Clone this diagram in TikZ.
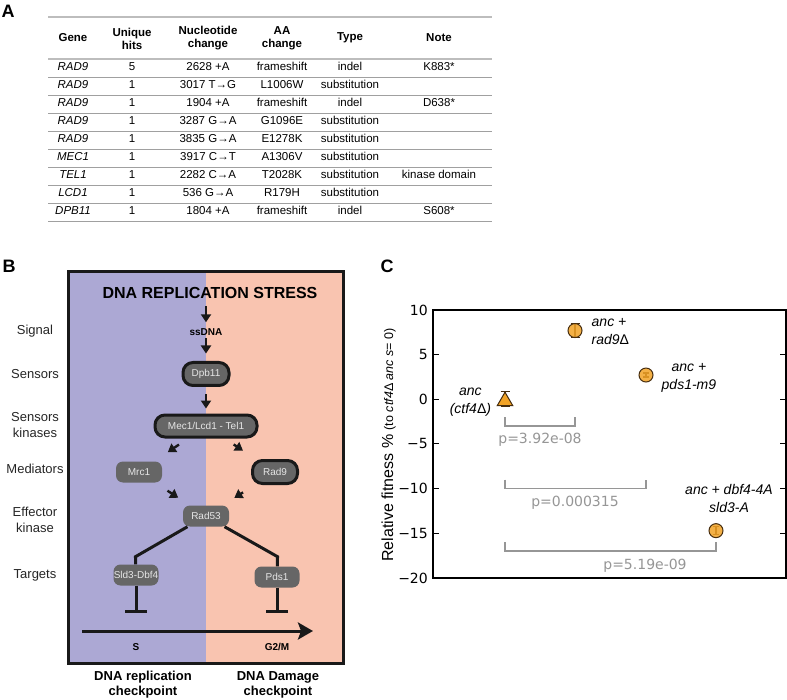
\documentclass[tikz,border=0pt]{standalone}
\usepackage{fontspec}
\setmainfont{Liberation Sans}
\newfontfamily\plotfont{DejaVu Sans}
\usetikzlibrary{positioning,arrows.meta,shapes.geometric}

\definecolor{replcol}{RGB}{172,168,212}
\definecolor{dmgcol}{RGB}{249,196,176}
\definecolor{protfill}{RGB}{102,102,102}
\definecolor{prottext}{RGB}{230,230,230}
\definecolor{rulegray}{RGB}{160,160,160}
\definecolor{markfill}{RGB}{242,163,38}
\definecolor{markedge}{RGB}{70,45,15}
\definecolor{pgray}{RGB}{150,150,150}

\begin{document}
\begin{tikzpicture}[
        x=1pt, y=-1pt,
        panel/.style={font=\fontsize{18}{18}\selectfont\bfseries, inner sep=0pt},
        cell/.style={font=\fontsize{11.5}{13}\selectfont, inner sep=0pt, align=center, anchor=base},
        head/.style={font=\fontsize{11.5}{13}\selectfont\bfseries, inner sep=0pt, align=center},
        genecell/.style={cell, font=\fontsize{11.5}{13}\selectfont\itshape},
        hline/.style={draw=rulegray, line width=0.9pt},
        topline/.style={draw=rulegray!70, line width=1.6pt},
        stage/.style={font=\fontsize{13}{16}\selectfont, align=center, inner sep=0pt, text=black!85},
        prot/.style={rectangle, rounded corners=7pt, fill=protfill, text=prottext,
            font=\fontsize{10}{10}\selectfont, inner sep=0pt, minimum width=46pt, minimum height=21pt},
        pill/.style={prot, draw=black!90, line width=3pt, rounded corners=10pt, minimum height=23pt},
        sig/.style={-{Triangle[length=8pt,width=10pt]}, line width=2.4pt, draw=black!90},
        link/.style={line width=3pt, draw=black!90},
        inhibit/.style={-{Bar[width=22pt]}, line width=3pt, draw=black!90},
        phase/.style={font=\fontsize{10}{10}\selectfont\bfseries, inner sep=0pt},
        check/.style={font=\fontsize{13}{15}\selectfont\bfseries, align=center, inner sep=0pt},
        ticklab/.style={font=\plotfont\fontsize{14}{14}\selectfont, inner sep=0pt, anchor=east},
        pt/.style={circle, draw=markedge, fill=markfill, fill opacity=0.85, line width=1pt,
            minimum size=14pt, inner sep=0pt},
        tri/.style={regular polygon, regular polygon sides=3, draw=markedge, fill=markfill,
            line width=1pt, minimum size=18pt, inner sep=0pt},
        errbar/.style={{Bar[width=#1]}-{Bar[width=#1]}, line width=1.3pt, draw=markedge},
        errbar/.default=9pt,
        bracket/.style={draw=pgray, line width=1.6pt},
        pval/.style={font=\plotfont\fontsize{14}{14}\selectfont, text=pgray, inner sep=0pt, anchor=base},
        ptlab/.style={font=\fontsize{14}{18}\selectfont\itshape, inner sep=0pt, align=center}
    ]
    \useasboundingbox (0,0) rectangle (787,700);
    \fill[white] (0,0) rectangle (787,700);

    % A: table of hits
    \node[panel] (labA) at (8,11) {A};
    \draw[topline] (48,17) -- (492,17);
    \node[head] (hgene) at (73,38) {Gene};
    \node[head] (hhits) at (132,38.5) {Unique\\hits};
    \node[head] (hnuc) at (208,38.5) {Nucleotide\\change};
    \node[head] (hamino) at (282,38.5) {AA\\change};
    \node[head] (htype) at (350,38) {Type};
    \node[head] (hremark) at (439,38) {Note};
    \draw[topline] (48,59) -- (492,59);
    \foreach \gene/\hits/\nuc/\amino/\kind/\remark [count=\r] in {
        RAD9/5/2628 +A/frameshift/indel/K883*,
        RAD9/1/3017 T→G/L1006W/substitution/{},
        RAD9/1/1904 +A/frameshift/indel/D638*,
        RAD9/1/3287 G→A/G1096E/substitution/{},
        RAD9/1/3835 G→A/E1278K/substitution/{},
        MEC1/1/3917 C→T/A1306V/substitution/{},
        TEL1/1/2282 C→A/T2028K/substitution/kinase domain,
        LCD1/1/536 G→A/R179H/substitution/{},
        DPB11/1/1804 +A/frameshift/indel/S608*}
    {
        \pgfmathsetmacro\ry{71+18*(\r-1)}
        \pgfmathsetmacro\ly{77+18*(\r-1)}
        \node[genecell] (gene\r) at (73,\ry) {\gene};
        \node[cell] (hits\r) at (132,\ry) {\hits};
        \node[cell] (nuc\r) at (208,\ry) {\nuc};
        \node[cell] (amino\r) at (282,\ry) {\amino};
        \node[cell] (kind\r) at (350,\ry) {\kind};
        \node[cell] (remark\r) at (439,\ry) {\remark};
        \draw[hline] (48,\ly) -- (492,\ly);
    }

    % B: checkpoint pathway
    \node[panel] (labB) at (9,266) {B};
    \fill[replcol] (68,272) rectangle (206,663);
    \fill[dmgcol] (206,272) rectangle (343,663);
    \draw[line width=3pt, black!90] (68,272) rectangle (343,663);

    \node[font=\fontsize{16}{16}\selectfont\bfseries, inner sep=0pt] (stress) at (210,293) {DNA REPLICATION STRESS};
    \node[phase, inner sep=1pt] (ssdna) at (206,332) {ssDNA};
    \node[pill] (dpb11) at (206,374) {Dpb11};
    \node[pill, minimum width=102pt, minimum height=22pt] (mec) at (206,426) {Mec1/Lcd1 - Tel1};
    \node[prot] (mrc) at (139,472) {Mrc1};
    \node[pill, minimum width=45pt] (rad9) at (275,472) {Rad9};
    \node[prot] (rad53) at (206,516) {Rad53};
    \node[prot, minimum width=45pt] (sld3) at (136,575) {Sld3-Dbf4};
    \node[prot, minimum width=45pt] (pds1) at (277,577) {Pds1};

    \draw[sig, shorten <=7pt, shorten >=5pt] (ssdna |- stress.south) -- (ssdna);
    \draw[sig, shorten <=1.5pt, shorten >=7.5pt] (ssdna) -- (dpb11);
    \draw[sig, shorten <=7.5pt, shorten >=5pt] (dpb11) -- (mec);
    \draw[sig, shorten <=10.7pt, shorten >=16pt] (mec) -- (mrc);
    \draw[sig, shorten <=10.7pt, shorten >=15pt] (mec) -- (rad9);
    \draw[sig, shorten <=14.6pt, shorten >=13.7pt] (mrc) -- (rad53);
    \draw[sig, shorten <=13.7pt, shorten >=13.7pt] (rad9) -- (rad53);

    \draw[link] (rad53.210) -- ++(-52,30) -- (sld3);
    \draw[link] (rad53.330) -- ++(53,30) -- (pds1);
    \coordinate (sldstop) at (136,613);
    \coordinate (pdsstop) at (277,613);
    \draw[inhibit] (sld3) -- (sldstop);
    \draw[inhibit] (pds1) -- (pdsstop);

    \coordinate (cycstart) at (82,631);
    \coordinate (cycend) at (313,631);
    \draw[line width=3pt, black!90, -{Stealth[length=15pt,width=17pt,inset=3pt]}] (cycstart) -- (cycend);
    \node[phase] (sphase) at (136,647) {S};
    \node[phase] (g2m) at (277,647) {G2/M};

    \node[stage] (signal) at (35,331) {Signal};
    \node[stage] (sensors) at (35,374) {Sensors};
    \node[stage] (senskin) at (35,425) {Sensors\\kinases};
    \node[stage] (mediators) at (35,469) {Mediators};
    \node[stage] (effector) at (35,519.5) {Effector\\kinase};
    \node[stage] (targets) at (35,575) {Targets};

    \node[check] (replcheck) at (143,684.5) {DNA replication\\checkpoint};
    \node[check] (dmgcheck) at (278,684.5) {DNA Damage\\checkpoint};

    % C: relative fitness
    \node[panel] (labC) at (387,266) {C};
    \draw[line width=1.4pt] (433,310) rectangle (786,578);
    \foreach \v/\lab [count=\i] in {10/10,5/5,0/0,-5/−5,-10/−10,-15/−15,-20/−20}
    {
        \pgfmathsetmacro\ty{399.33-8.933*\v}
        \draw[line width=1pt] (433,\ty) -- ++(6,0);
        \draw[line width=1pt] (786,\ty) -- ++(-6,0);
        \node[ticklab] (tick\i) at (428,\ty) {\lab};
    }
    \node[rotate=90, anchor=base west, inner sep=0pt, font=\fontsize{16}{16}\selectfont] (ylab) at (393,562)
        {Relative fitness \% {\fontsize{12.5}{12.5}\selectfont(to \textit{ctf4}Δ \textit{anc} \textit{s}= 0)}};

    \begin{scope}[yshift=-399.33pt, y=8.933pt]
        \draw[errbar] (505,-0.9) -- (505,0.93);
        \draw[errbar] (575,6.86) -- (575,8.54);
        \draw[errbar=6pt] (646,2.42) -- (646,3.02);
        \draw[errbar=6pt] (716,-15.2) -- (716,-14.2);

        \node[tri] (ancpt) at (505,-0.21) {};
        \node[pt] (rad9pt) at (575,7.7) {};
        \node[pt] (pds1pt) at (646,2.72) {};
        \node[pt] (dbfpt) at (716,-14.7) {};

        \node[ptlab, left=8pt of ancpt, yshift=-1pt] (anclab) {anc\\(ctf4{\upshape Δ})};
        \node[ptlab, align=left, right=9pt of rad9pt, yshift=-1pt] (rad9lab) {anc +\\rad9{\upshape Δ}};
        \node[ptlab, right=8pt of pds1pt, yshift=-3pt] (pds1lab) {anc +\\pds1-m9};
        \node[ptlab, above=10pt of dbfpt, xshift=13pt] (dbflab) {anc + dbf4-4A\\sld3-A};

        \draw[bracket] (ancpt |- 0,-2) |- (rad9pt |- 0,-3) -- (rad9pt |- 0,-2);
        \draw[bracket] (ancpt |- 0,-9) |- (pds1pt |- 0,-10) -- (pds1pt |- 0,-9);
        \draw[bracket] (ancpt |- 0,-16) |- (dbfpt |- 0,-17) -- (dbfpt |- 0,-16);
        \node[pval] (pone) at (540,-5) {p=3.92e-08};
        \node[pval] (ptwo) at (575,-12) {p=0.000315};
        \node[pval] (pthree) at (645,-19) {p=5.19e-09};
    \end{scope}
\end{tikzpicture}
\end{document}
